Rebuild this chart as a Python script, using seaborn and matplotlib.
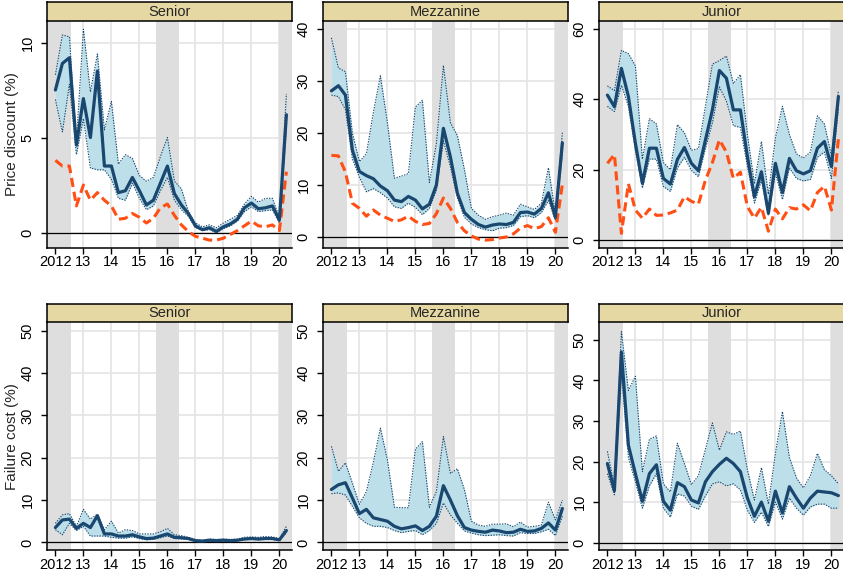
import numpy as np
import pandas as pd
import matplotlib.pyplot as plt
import seaborn as sns

sns.set_theme(style="white")
plt.rcParams["font.family"] = ["Liberation Sans", "DejaVu Sans"]

# ---------------------------------------------------------------------------
# Data (quarterly, 2012Q1 .. 2020Q2)
# ---------------------------------------------------------------------------
QUARTERS = [2012 + q / 4 for q in range(34)]

# Price discount (%) -- Senior
pd_sen_mid = [7.5, 8.9, 9.2, 4.6, 7.05, 5.0, 8.5, 3.5, 3.5, 2.1, 2.2, 2.9, 2.2, 1.45, 1.7, 2.6, 3.5,
              2.05, 1.45, 1.0, 0.35, 0.15, 0.25, 0.05, 0.3, 0.45, 0.7, 1.3, 1.55, 1.25, 1.3, 1.4, 0.65, 6.2]
pd_sen_hi = [8.3, 10.4, 10.3, 4.8, 10.7, 7.4, 9.4, 5.4, 6.9, 3.6, 4.1, 3.9, 3.0, 2.7, 2.9, 4.0, 5.0,
             2.7, 2.3, 1.1, 0.5, 0.3, 0.4, 0.25, 0.5, 0.7, 0.9, 1.5, 1.9, 1.6, 1.8, 1.8, 0.8, 7.3]
pd_sen_lo = [7.0, 5.3, 7.8, 4.1, 6.0, 3.4, 3.3, 3.3, 2.8, 1.8, 1.7, 2.6, 1.8, 1.2, 1.4, 2.2, 2.9,
             1.7, 1.2, 0.85, 0.25, 0.1, 0.15, 0.0, 0.2, 0.35, 0.6, 1.1, 1.35, 1.1, 1.15, 1.2, 0.5, 5.5]
pd_sen_alt = [3.8, 3.5, 3.5, 1.4, 2.5, 1.7, 2.1, 1.7, 1.4, 0.7, 0.75, 1.0, 0.8, 0.5, 0.75, 1.3, 1.5,
              0.9, 0.4, 0.05, -0.2, -0.3, -0.4, -0.4, -0.3, -0.1, 0.1, 0.35, 0.6, 0.35, 0.3, 0.4, 0.1, 3.2]

# Price discount (%) -- Mezzanine
pd_mez_mid = [28.1, 29.1, 27.3, 16.7, 12.6, 11.8, 11.2, 9.8, 8.9, 7.1, 6.8, 7.8, 7.1, 5.4, 6.3, 10.0, 20.9,
              15.4, 8.4, 4.7, 3.4, 2.4, 1.9, 2.3, 2.5, 2.4, 2.8, 4.7, 4.8, 4.4, 5.5, 8.5, 3.8, 18.1]
pd_mez_hi = [38.3, 32.5, 31.8, 20.0, 14.5, 16.0, 24.0, 31.0, 22.0, 11.3, 11.7, 12.2, 25.0, 26.3, 10.5, 18.0, 33.0,
             22.0, 19.5, 13.0, 5.5, 4.2, 3.4, 3.9, 4.2, 4.6, 4.2, 6.3, 5.8, 5.3, 6.5, 13.3, 4.5, 20.2]
pd_mez_lo = [27.3, 27.0, 24.5, 15.0, 11.5, 8.7, 9.3, 8.5, 7.5, 5.8, 5.5, 6.5, 5.7, 4.3, 5.5, 9.0, 18.5,
             13.5, 7.5, 3.8, 2.5, 1.8, 1.4, 1.2, 1.7, 1.8, 2.2, 3.9, 4.1, 3.7, 4.7, 7.0, 3.2, 16.0]
pd_mez_alt = [15.7, 15.6, 12.5, 6.5, 5.5, 4.0, 5.2, 4.2, 3.6, 3.0, 3.3, 4.0, 3.0, 2.4, 2.6, 4.5, 7.5,
              5.5, 2.8, 1.2, 0.2, -0.4, -0.6, -0.5, -0.2, 0.0, 0.6, 1.7, 2.2, 1.6, 2.0, 3.7, 0.9, 10.2]

# Price discount (%) -- Junior
pd_jun_mid = [41.2, 37.9, 48.8, 40.8, 27.5, 16.1, 26.1, 26.1, 17.5, 15.9, 22.9, 26.3, 21.8, 19.7, 28.4, 37.0, 48.2,
              46.0, 37.0, 37.0, 23.7, 12.3, 19.4, 7.6, 21.8, 13.5, 23.2, 19.7, 18.8, 19.7, 26.1, 28.0, 20.9, 40.8]
pd_jun_hi = [43.8, 42.5, 53.9, 53.0, 49.5, 23.0, 34.5, 33.0, 22.0, 20.0, 32.8, 30.5, 25.5, 26.0, 38.0, 50.0, 51.0,
             52.3, 44.5, 47.0, 30.0, 16.0, 28.0, 13.0, 29.0, 38.0, 30.0, 24.5, 23.3, 25.0, 35.3, 33.0, 24.0, 42.5]
pd_jun_lo = [38.0, 36.5, 44.0, 38.0, 25.5, 14.8, 23.0, 23.0, 15.2, 13.8, 20.5, 23.5, 19.8, 18.0, 26.0, 33.3, 43.5,
             39.5, 32.5, 32.0, 21.0, 10.5, 17.0, 7.0, 19.0, 11.5, 20.5, 17.5, 16.8, 17.2, 23.5, 25.0, 17.5, 37.5]
pd_jun_alt = [21.8, 24.3, 1.9, 16.0, 8.5, 6.2, 8.8, 7.0, 7.1, 7.7, 8.5, 12.3, 11.0, 10.2, 17.0, 22.0, 28.5,
              25.0, 17.5, 19.3, 9.5, 6.2, 9.3, 2.5, 8.8, 6.0, 9.2, 8.8, 10.0, 8.3, 13.5, 15.3, 8.5, 28.8]

# Failure cost (%) -- Senior
fc_sen_mid = [3.5, 5.3, 5.5, 3.3, 4.5, 3.5, 6.3, 2.0, 2.0, 1.5, 1.5, 1.8, 1.3, 0.9, 1.0, 1.5, 2.0,
              1.2, 1.1, 0.9, 0.4, 0.3, 0.5, 0.4, 0.5, 0.4, 0.5, 0.8, 0.9, 0.8, 0.9, 0.9, 0.6, 2.8]
fc_sen_hi = [4.5, 6.5, 6.8, 3.8, 7.8, 5.5, 6.7, 3.0, 5.0, 2.2, 3.0, 2.8, 2.0, 2.0, 2.0, 2.5, 3.3,
             1.8, 1.6, 1.2, 0.7, 0.5, 0.8, 0.7, 0.8, 0.7, 0.8, 1.2, 1.3, 1.2, 1.4, 1.3, 0.9, 3.8]
fc_sen_lo = [3.0, 1.8, 4.5, 2.8, 3.8, 1.5, 1.5, 1.5, 1.2, 1.0, 1.0, 1.3, 0.9, 0.6, 0.7, 1.1, 1.5,
             0.9, 0.8, 0.7, 0.3, 0.2, 0.3, 0.3, 0.35, 0.3, 0.4, 0.6, 0.7, 0.6, 0.7, 0.7, 0.45, 2.3]

# Failure cost (%) -- Mezzanine
fc_mez_mid = [12.5, 13.6, 14.1, 10.5, 6.8, 7.8, 5.8, 5.4, 5.0, 3.8, 3.2, 3.5, 3.9, 2.8, 3.8, 6.2, 13.4,
              10.0, 6.3, 3.5, 2.9, 2.6, 2.4, 2.9, 2.7, 2.3, 2.4, 3.1, 2.6, 2.7, 3.3, 4.6, 2.9, 8.0]
fc_mez_hi = [22.7, 16.8, 18.8, 14.0, 9.0, 12.0, 19.0, 27.0, 19.5, 8.3, 8.2, 8.2, 22.0, 23.8, 8.3, 12.0, 25.0,
             16.3, 17.4, 12.5, 5.0, 4.1, 3.8, 4.3, 4.3, 4.4, 3.7, 4.8, 3.6, 3.8, 4.1, 9.5, 5.3, 10.0]
fc_mez_lo = [11.5, 11.7, 11.2, 8.5, 5.8, 4.5, 3.8, 3.8, 3.5, 2.8, 2.3, 2.6, 2.8, 1.8, 2.8, 4.5, 9.3,
             6.5, 4.5, 2.7, 2.2, 1.8, 1.6, 1.7, 1.8, 1.6, 1.5, 2.3, 2.1, 2.1, 2.5, 3.1, 1.6, 6.2]

# Failure cost (%) -- Junior
fc_jun_mid = [19.5, 12.8, 47.0, 24.0, 17.0, 10.2, 17.0, 19.2, 10.2, 8.0, 14.8, 13.8, 10.5, 9.8, 15.0, 17.5, 19.3,
              20.8, 19.5, 17.5, 11.0, 6.5, 10.0, 5.3, 12.7, 7.3, 13.8, 11.0, 8.5, 11.0, 12.7, 12.5, 12.3, 11.6]
fc_jun_hi = [22.5, 14.0, 52.0, 37.5, 41.0, 17.5, 25.5, 26.3, 14.5, 12.5, 24.5, 19.5, 14.3, 16.5, 23.0, 29.5, 22.8,
             27.3, 26.7, 27.5, 18.0, 10.5, 18.5, 9.5, 22.0, 32.3, 21.0, 16.0, 13.5, 16.5, 22.0, 18.0, 16.5, 14.5]
fc_jun_lo = [17.0, 11.8, 42.0, 21.0, 15.0, 8.5, 14.0, 17.0, 8.5, 6.3, 12.0, 11.5, 9.0, 8.2, 11.5, 14.5, 15.0,
             14.0, 14.5, 13.0, 8.0, 5.0, 7.5, 4.0, 10.0, 5.8, 11.0, 8.5, 6.8, 8.8, 9.5, 9.5, 8.5, 8.5]

TRANCHES = ["Senior", "Mezzanine", "Junior"]
YEAR_TICKS = list(range(2012, 2021))
YEAR_LABELS = ["2012", "13", "14", "15", "16", "17", "18", "19", "20"]
SHADE_PERIODS = [(2011.5, 2012.55), (2015.6, 2016.4), (2020.0, 2021.0)]

# ---------------------------------------------------------------------------
# Style
# ---------------------------------------------------------------------------
NAVY = "#1a476f"
BAND = "#bcdfe9"
ORANGE = "#ff4f14"
STRIP = "#e6d8a2"
SHADE = "#dedede"
GRID = "#e6e6e6"

panels = [
    # row, col, title, mid, hi, lo, alt, ylim, yticks, ylabel
    (0, 0, "Senior", pd_sen_mid, pd_sen_hi, pd_sen_lo, pd_sen_alt, (-0.8, 11.15), [0, 5, 10], "Price discount (%)"),
    (0, 1, "Mezzanine", pd_mez_mid, pd_mez_hi, pd_mez_lo, pd_mez_alt, (-2.06, 41.6), [0, 10, 20, 30, 40], None),
    (0, 2, "Junior", pd_jun_mid, pd_jun_hi, pd_jun_lo, pd_jun_alt, (-2.19, 62.35), [0, 20, 40, 60], None),
    (1, 0, "Senior", fc_sen_mid, fc_sen_hi, fc_sen_lo, None, (-1.8, 52.0), [0, 10, 20, 30, 40, 50], "Failure cost (%)"),
    (1, 1, "Mezzanine", fc_mez_mid, fc_mez_hi, fc_mez_lo, None, (-1.8, 52.0), [0, 10, 20, 30, 40, 50], None),
    (1, 2, "Junior", fc_jun_mid, fc_jun_hi, fc_jun_lo, None, (-1.8, 54.3), [0, 10, 20, 30, 40, 50], None),
]

W, H = 843, 571
fig = plt.figure(figsize=(W / 100, H / 100), dpi=100)
fig.patch.set_facecolor("white")

COL_LEFT = [47, 323, 599]
COL_W = 245
ROW_TOP = [20.7, 322.3]     # top of plotting area (px from top)
ROW_BOT = [247.7, 550.0]    # bottom of plotting area
STRIP_H = 18.7

for row, col, title, mid, hi, lo, alt, ylim, yticks, ylabel in panels:
    x0 = COL_LEFT[col] / W
    y0 = 1 - ROW_BOT[row] / H
    h = (ROW_BOT[row] - ROW_TOP[row]) / H
    ax = fig.add_axes([x0, y0, COL_W / W, h])

    df = pd.DataFrame({"quarter": QUARTERS, "mid": mid, "hi": hi, "lo": lo})

    ax.set_xlim(2011.7, 2020.45)
    ax.set_ylim(*ylim)

    # grid
    for t in YEAR_TICKS:
        ax.axvline(t, color=GRID, lw=1.3, zorder=0.2)
    for t in yticks:
        ax.axhline(t, color=GRID, lw=1.3, zorder=0.2)
    # shaded periods
    for a, b in SHADE_PERIODS:
        ax.axvspan(a, b, color=SHADE, lw=0, zorder=0.5)

    ax.fill_between(df["quarter"], df["lo"], df["hi"], color=BAND, lw=0, zorder=1)
    sns.lineplot(data=df, x="quarter", y="hi", ax=ax, color=NAVY, lw=0.8,
                 linestyle=(0, (1.2, 1.2)), zorder=2)
    sns.lineplot(data=df, x="quarter", y="lo", ax=ax, color=NAVY, lw=0.8,
                 linestyle=(0, (1.2, 1.2)), zorder=2)
    ax.axhline(0, color="black", lw=0.9, zorder=2.5)
    if alt is not None:
        sns.lineplot(x=QUARTERS, y=alt, ax=ax, color=ORANGE, lw=2.2,
                     linestyle=(0, (3, 1.6)), zorder=3)
    sns.lineplot(data=df, x="quarter", y="mid", ax=ax, color=NAVY, lw=2.3, zorder=4)

    ax.set_xticks(YEAR_TICKS)
    ax.set_xticklabels(YEAR_LABELS)
    ax.set_yticks(yticks)
    ax.set_yticklabels([str(t) for t in yticks], rotation=90, va="center")
    ax.tick_params(axis="both", direction="out", length=4, width=1, color="black",
                   labelsize=10.5, labelcolor="black", bottom=True, left=True)
    ax.tick_params(axis="y", pad=5)
    ax.tick_params(axis="x", pad=1.5)
    ax.set_xlabel("")
    ax.set_ylabel("")
    for s in ax.spines.values():
        s.set_color("black")
        s.set_linewidth(1.1)
    ax.spines["right"].set_visible(False)
    ax.spines["top"].set_visible(False)
    ax.set_facecolor("white")

    if ylabel:
        fig.text(12 / W, 1 - (ROW_TOP[row] + ROW_BOT[row]) / 2 / H, ylabel,
                 rotation=90, ha="center", va="center", fontsize=11)

    # facet strip
    sax = fig.add_axes([x0, 1 - ROW_TOP[row] / H, COL_W / W, STRIP_H / H])
    sax.set_facecolor(STRIP)
    sax.set_xticks([])
    sax.set_yticks([])
    for s in sax.spines.values():
        s.set_color("black")
        s.set_linewidth(1.1)
    sax.text(0.5, 0.48, title, ha="center", va="center", fontsize=10.5, transform=sax.transAxes)

fig.savefig("out.png", dpi=100, facecolor="white")
